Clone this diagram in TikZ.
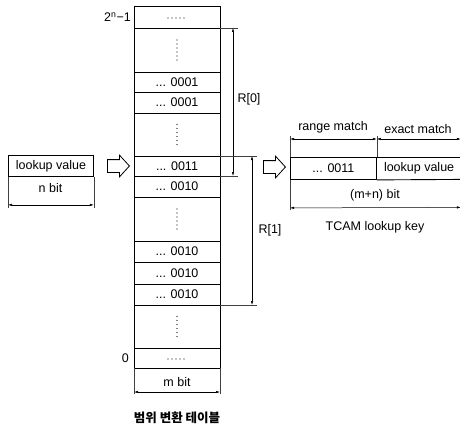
\documentclass[tikz,border=0pt]{standalone}
\usepackage{fontspec}
\setmainfont{Liberation Sans}
\newfontfamily\krfont{Noto Sans CJK KR}
\usetikzlibrary{shapes.arrows,calc,arrows.meta}
\begin{document}
\begin{tikzpicture}[x=1pt,y=-1pt, font=\fontsize{12.5}{14}\selectfont,
  row/.style={draw, line width=0.9pt, minimum width=86pt, inner sep=0pt, outer sep=0pt, anchor=north west},
  vdotrow/.style={row, path picture={\draw[line width=1.3pt, line cap=round, dash pattern=on 0pt off 4pt] ($(path picture bounding box.center)+(0,-10)$) -- ($(path picture bounding box.center)+(0,11)$);}},
  hdotrow/.style={row, path picture={\draw[line width=1.1pt, line cap=round, dash pattern=on 0pt off 4pt] ($(path picture bounding box.center)+(-9,1)$) -- ($(path picture bounding box.center)+(10,1)$);}},
  dim/.style={{Latex[length=4pt,width=2.4pt]}-{Latex[length=4pt,width=2.4pt]}, line width=0.5pt},
  ext/.style={line width=0.4pt, black!75},
  harrow/.style={single arrow, draw, line width=0.8pt, minimum height=22pt, inner xsep=0pt, inner ysep=6pt, single arrow head extend=4.5pt, single arrow tip angle=95}]
\useasboundingbox (0,0) rectangle (460,428);

% table rows
\node[hdotrow, minimum height=22pt] (r0) at (134,6) {};
\node[vdotrow, minimum height=44pt] (r1) at (134,28) {};
\node[row, minimum height=20pt] (r2) at (134,72) {... 0001};
\node[row, minimum height=21pt] (r3) at (134,92) {... 0001};
\node[vdotrow, minimum height=43pt] (r4) at (134,113) {};
\node[row, minimum height=20pt] (r5) at (134,156) {... 0011};
\node[row, minimum height=21pt] (r6) at (134,176) {... 0010};
\node[vdotrow, minimum height=44pt] (r7) at (134,197) {};
\node[row, minimum height=21pt] (r8) at (134,241) {... 0010};
\node[row, minimum height=22pt] (r9) at (134,262) {... 0010};
\node[row, minimum height=21pt] (r10) at (134,284) {... 0010};
\node[vdotrow, minimum height=43pt] (r11) at (134,305) {};
\node[hdotrow, minimum height=20pt] (r12) at (134,348) {};

\node[anchor=east, inner sep=0pt] (topl) at (131,17) {2\textsuperscript{n}−1};
\node[anchor=east, inner sep=0pt] (zerol) at (129,358) {0};

% m bit
\draw[ext] (r12.south west) -- ++(0,26);
\draw[ext] (r12.south east) -- ++(0,26);
\draw[dim] ($(r12.south west)+(0,24)$) -- ($(r12.south east)+(0,24)$);
\node (mb) at (177,382) {m bit};

% caption
\node[font=\fontsize{12.5}{14}\selectfont\krfont\bfseries] (cap) at (177,418) {범위 변환 테이블};

% lookup value
\node[draw, line width=0.9pt, minimum width=85pt, minimum height=21pt, anchor=north west, inner sep=0pt] (lv) at (8,155) {lookup value};
\draw[ext] (lv.south west) -- ++(0,31);
\draw[ext] (lv.south east) -- ++(0,31);
\draw[dim] ($(lv.south west)+(0,28)$) -- ($(lv.south east)+(0,28)$);
\node (nb) at (50.5,188) {n bit};

% hollow arrows
\node[harrow] (a1) at (115.5,166) {};
\node[harrow] (a2) at (271.5,167) {};

% R[0]
\draw[ext] (r1.north east) -- ++(18,0);
\draw[ext] (r5.south east) -- ++(18,0);
\draw[dim] ($(r1.north east)+(13,0)$) -- ($(r5.south east)+(13,0)$);
\node[anchor=west] (R0) at (234,99) {R[0]};

% R[1]
\draw[ext] (r5.north east) -- ++(37,0);
\draw[ext] (r10.south east) -- ++(37,0);
\draw[dim] ($(r5.north east)+(32,0)$) -- ($(r10.south east)+(32,0)$);
\node[anchor=west] (R1) at (255,230) {R[1]};

% TCAM lookup key
\node[draw, line width=0.9pt, minimum width=86pt, minimum height=22pt, anchor=north west, inner sep=0pt] (k1) at (290,157) {... 0011};
\node[minimum width=84pt, minimum height=22pt, anchor=north west, inner sep=0pt] (k2) at (k1.north east) {lookup value};
\draw[line width=0.9pt] (k1.north east) -- (k2.north east);
\draw[line width=0.9pt] (k1.south east) -- (k2.south east);
\draw[ext] (k1.north west) -- ++(0,-21);
\draw[ext] (k1.north east) -- ++(0,-21);
\draw[ext] (k1.south west) -- ++(0,30);
\draw[dim] ($(k1.north west)+(0,-18)$) -- ($(k1.north east)+(0,-18)$);
\draw[dim] ($(k1.north east)+(0,-18)$) -- ($(k2.north east)+(-0.5,-18)$);
\draw[dim] ($(k1.south west)+(0,28)$) -- ($(k2.south east)+(-0.5,28)$);
\node (rm) at (333,127) {range match};
\node (em) at (418,129) {exact match};
\node (mn) at (375,195) {(m+n) bit};
\node (tk) at (375,227) {TCAM lookup key};
\end{tikzpicture}
\end{document}
